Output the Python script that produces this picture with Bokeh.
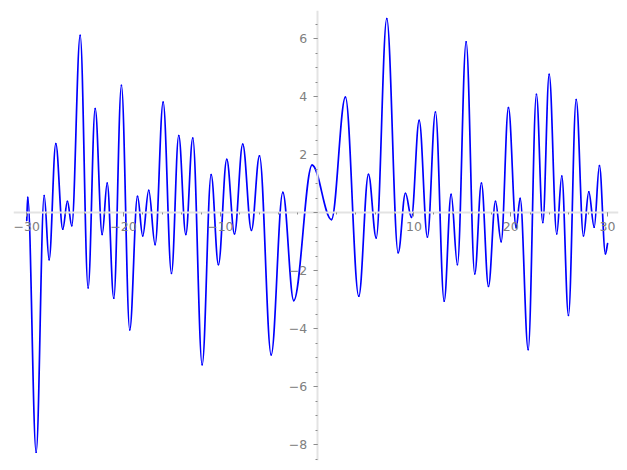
from bokeh.plotting import figure
from bokeh.models import ColumnDataSource, SingleIntervalTicker
from bokeh.embed import file_html
from bokeh.resources import INLINE

# Turning points of the curve, plus the two end points
ext_x = [-30.0, -29.90, -29.03, -28.20, -27.69, -27.00, -26.28, -25.80, -25.35, -24.48,
         -23.66, -22.93, -22.21, -21.69, -21.01, -20.22, -19.36, -18.56, -18.02, -17.40,
         -16.74, -15.91, -15.05, -14.30, -13.57, -12.85, -11.88, -10.95, -10.20, -9.34,
         -8.54, -7.69, -6.79, -5.96, -4.75, -3.55, -2.42, -0.52, 1.48, 2.92,
         4.30, 5.30, 6.10, 7.19, 8.37, 9.12, 9.74, 10.54, 11.39, 12.22,
         13.12, 13.84, 14.49, 15.39, 16.28, 16.97, 17.70, 18.42, 19.01, 19.76,
         20.56, 20.97, 21.80, 22.65, 23.31, 23.97, 24.75, 25.27, 25.96, 26.76,
         27.51, 28.06, 28.62, 29.16, 29.78, 30.0]
ext_y = [-0.27, 0.53, -8.26, 0.59, -1.62, 2.38, -0.57, 0.39, -0.45, 6.11,
         -2.59, 3.59, -0.75, 1.02, -2.95, 4.39, -4.04, 0.56, -0.80, 0.77,
         -1.10, 3.81, -2.09, 2.66, -0.75, 2.57, -5.24, 1.31, -1.79, 1.84,
         -0.73, 2.36, -0.61, 1.96, -4.90, 0.70, -3.03, 1.64, -0.24, 3.98,
         -2.88, 1.32, -0.87, 6.69, -1.38, 0.67, -0.16, 3.18, -0.84, 3.47,
         -3.05, 0.63, -1.79, 5.89, -2.11, 1.02, -2.54, 0.39, -1.00, 3.62,
         -0.52, 0.49, -4.72, 4.08, -0.34, 4.77, -0.73, 1.26, -3.54, 3.90,
         -0.80, 0.72, -0.50, 1.62, -1.42, -1.07]

x_major = [-30, -20, -10, 0, 10, 20, 30]
x_labels = ["\u221230", "\u221220", "\u221210", "", "10", "20", "30"]
y_major = [-8, -6, -4, -2, 0, 2, 4, 6]
y_labels = ["\u22128", "\u22126", "\u22124", "\u22122", "", "2", "4", "6"]

# Smooth segments between turning points: horizontal tangents at each turning point
K = 0.364
n = len(ext_x)
x0, y0, x1, y1, cx0, cy0, cx1, cy1 = [], [], [], [], [], [], [], []
for i in range(n - 1):
    a, b = ext_x[i], ext_x[i + 1]
    ya, yb = ext_y[i], ext_y[i + 1]
    d = b - a
    x0.append(a); y0.append(ya); x1.append(b); y1.append(yb)
    cx0.append(a + K * d)
    cy0.append(ya + K * (yb - ya) if i == 0 else ya)
    cx1.append(b - K * d)
    cy1.append(yb - K * (yb - ya) if i == n - 2 else yb)

src = ColumnDataSource(dict(x0=x0, y0=y0, x1=x1, y1=y1, cx0=cx0, cy0=cy0, cx1=cx1, cy1=cy1))

p = figure(width=619, height=462, x_range=(-31.37, 31.13), y_range=(-8.545, 6.97),
           output_backend="svg", toolbar_location=None,
           min_border_left=13, min_border_right=1, min_border_top=10, min_border_bottom=2)
p.outline_line_color = None
p.grid.visible = False
p.background_fill_color = "white"

p.bezier(x0="x0", y0="y0", x1="x1", y1="y1", cx0="cx0", cy0="cy0", cx1="cx1", cy1="cy1",
         source=src, line_color="#0000ff", line_width=1.7, line_cap="round")

for ax, ticks, labels, interval, minors, standoff in (
        (p.xaxis[0], x_major, x_labels, 10, 5, 5),
        (p.yaxis[0], y_major, y_labels, 2, 4, 6)):
    ax.fixed_location = 0
    ax.ticker = SingleIntervalTicker(interval=interval, num_minor_ticks=minors)
    ax.major_label_overrides = dict(zip(ticks, labels))
    ax.axis_line_color = "#e3e3e3"
    ax.axis_line_width = 2
    ax.major_tick_line_color = "#8c8c8c"
    ax.minor_tick_line_color = "#8c8c8c"
    ax.major_tick_out = 4
    ax.major_tick_in = 0
    ax.minor_tick_out = 2
    ax.minor_tick_in = 0
    ax.major_label_text_color = "#808080"
    ax.major_label_text_font = "DejaVu Sans"
    ax.major_label_text_font_size = "12.5px"
    ax.major_label_standoff = standoff

open("out.html", "w").write(file_html(p, INLINE))
